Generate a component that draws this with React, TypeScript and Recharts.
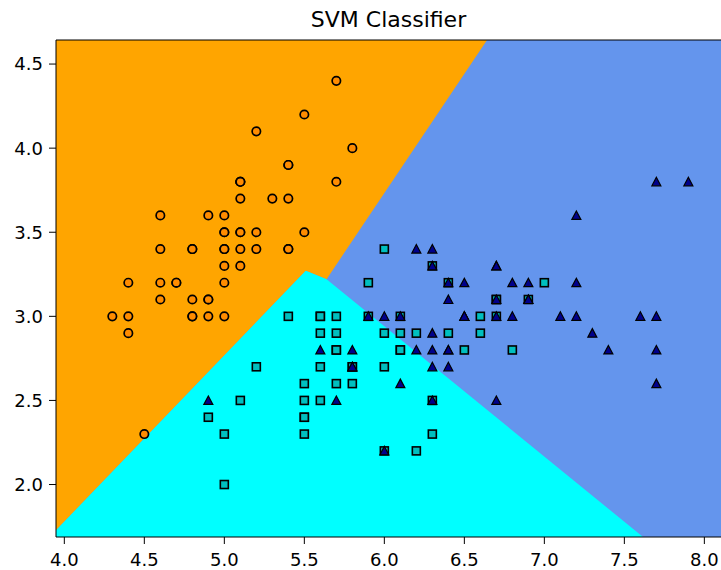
import React from 'react';
import {
  ComposedChart,
  Area,
  Scatter,
  XAxis,
  YAxis,
  CartesianGrid,
  ReferenceLine,
} from 'recharts';

// axis window of the mesh
const X_MIN = 3.948;
const X_MAX = 8.104;
const Y_MIN = 1.688;
const Y_MAX = 4.643;
const X_TICKS = [4.0, 4.5, 5.0, 5.5, 6.0, 6.5, 7.0, 7.5, 8.0];
const Y_TICKS = [2.0, 2.5, 3.0, 3.5, 4.0, 4.5];

// decision boundaries
const SETOSA_EDGE_X = [3.948, 5.509, 5.639, 6.642];
const SETOSA_EDGE_Y = [1.728, 3.271, 3.221, 4.643];
const VERSI_EDGE_X = [3.948, 5.509, 5.639, 7.617];
const VERSI_EDGE_Y = [1.728, 3.271, 3.221, 1.688];

// sepal length / sepal width
const SETOSA: [number, number][] = [
  [5.1, 3.5], [4.9, 3.0], [4.7, 3.2], [4.6, 3.1], [5.0, 3.6], [5.4, 3.9], [4.6, 3.4], [5.0, 3.4],
  [4.4, 2.9], [4.9, 3.1], [5.4, 3.7], [4.8, 3.4], [4.8, 3.0], [4.3, 3.0], [5.8, 4.0], [5.7, 4.4],
  [5.4, 3.9], [5.1, 3.5], [5.7, 3.8], [5.1, 3.8], [5.4, 3.4], [5.1, 3.7], [4.6, 3.6], [5.1, 3.3],
  [4.8, 3.4], [5.0, 3.0], [5.0, 3.4], [5.2, 3.5], [5.2, 3.4], [4.7, 3.2], [4.8, 3.1], [5.4, 3.4],
  [5.2, 4.1], [5.5, 4.2], [4.9, 3.1], [5.0, 3.2], [5.5, 3.5], [4.9, 3.6], [4.4, 3.0], [5.1, 3.4],
  [5.0, 3.5], [4.5, 2.3], [4.4, 3.2], [5.0, 3.5], [5.1, 3.8], [4.8, 3.0], [5.1, 3.8], [4.6, 3.2],
  [5.3, 3.7], [5.0, 3.3],
];
const VERSICOLOR: [number, number][] = [
  [7.0, 3.2], [6.4, 3.2], [6.9, 3.1], [5.5, 2.3], [6.5, 2.8], [5.7, 2.8], [6.3, 3.3], [4.9, 2.4],
  [6.6, 2.9], [5.2, 2.7], [5.0, 2.0], [5.9, 3.0], [6.0, 2.2], [6.1, 2.9], [5.6, 2.9], [6.7, 3.1],
  [5.6, 3.0], [5.8, 2.7], [6.2, 2.2], [5.6, 2.5], [5.9, 3.2], [6.1, 2.8], [6.3, 2.5], [6.1, 2.8],
  [6.4, 2.9], [6.6, 3.0], [6.8, 2.8], [6.7, 3.0], [6.0, 2.9], [5.7, 2.6], [5.5, 2.4], [5.5, 2.4],
  [5.8, 2.7], [6.0, 2.7], [5.4, 3.0], [6.0, 3.4], [6.7, 3.1], [6.3, 2.3], [5.6, 3.0], [5.5, 2.5],
  [5.5, 2.6], [6.1, 3.0], [5.8, 2.6], [5.0, 2.3], [5.6, 2.7], [5.7, 3.0], [5.7, 2.9], [6.2, 2.9],
  [5.1, 2.5], [5.7, 2.8],
];
const VIRGINICA: [number, number][] = [
  [6.3, 3.3], [5.8, 2.7], [7.1, 3.0], [6.3, 2.9], [6.5, 3.0], [7.6, 3.0], [4.9, 2.5], [7.3, 2.9],
  [6.7, 2.5], [7.2, 3.6], [6.5, 3.2], [6.4, 2.7], [6.8, 3.0], [5.7, 2.5], [5.8, 2.8], [6.4, 3.2],
  [6.5, 3.0], [7.7, 3.8], [7.7, 2.6], [6.0, 2.2], [6.9, 3.2], [5.6, 2.8], [7.7, 2.8], [6.3, 2.7],
  [6.7, 3.3], [7.2, 3.2], [6.2, 2.8], [6.1, 3.0], [6.4, 2.8], [7.2, 3.0], [7.4, 2.8], [7.9, 3.8],
  [6.4, 2.8], [6.3, 2.8], [6.1, 2.6], [7.7, 3.0], [6.3, 3.4], [6.4, 3.1], [6.0, 3.0], [6.9, 3.1],
  [6.7, 3.1], [6.9, 3.1], [5.8, 2.7], [6.8, 3.2], [6.7, 3.3], [6.7, 3.0], [6.3, 2.5], [6.5, 3.0],
  [6.2, 3.4], [5.9, 3.0],
];

const setosaBand = SETOSA_EDGE_X.map((x, i) => ({ x, band: [SETOSA_EDGE_Y[i], Y_MAX] }));
const versiBand = VERSI_EDGE_X.map((x, i) => ({ x, band: [Y_MIN, VERSI_EDGE_Y[i]] }));
const toPts = (arr: [number, number][]) => arr.map(([x, y]) => ({ x, y }));

const FONT = '"DejaVu Sans", sans-serif';

const CircleDot = (p: any) => (
  <circle cx={p.cx} cy={p.cy} r={4.2} fill="#ff8c00" stroke="#000" strokeWidth={1.7} />
);
const SquareDot = (p: any) => (
  <rect x={p.cx - 4} y={p.cy - 4} width={8} height={8} fill="#00bfbf" stroke="#000" strokeWidth={1.6} />
);
const TriangleDot = (p: any) => (
  <polygon
    points={`${p.cx},${p.cy - 4.5} ${p.cx - 4.5},${p.cy + 4} ${p.cx + 4.5},${p.cy + 4}`}
    fill="#00008b"
    stroke="#000"
    strokeWidth={1.2}
  />
);

export default function App() {
  return (
    <div style={{ position: 'absolute', left: 0, top: 0, width: 721, height: 570, background: '#fff', fontFamily: FONT }}>
      <div
        style={{
          position: 'absolute',
          left: 56,
          width: 665,
          top: 9,
          textAlign: 'center',
          fontSize: 22,
          lineHeight: '22px',
          color: '#000',
        }}
      >
        SVM Classifier
      </div>
      <ComposedChart width={721} height={570} margin={{ top: 40, right: 0, bottom: 0, left: 0 }}>
        <CartesianGrid horizontal={false} vertical={false} fill="#6495ed" fillOpacity={1} />
        <Area
          data={setosaBand}
          dataKey="band"
          type="linear"
          fill="#ffa500"
          fillOpacity={1}
          stroke="none"
          isAnimationActive={false}
        />
        <Area
          data={versiBand}
          dataKey="band"
          type="linear"
          fill="#00ffff"
          fillOpacity={1}
          stroke="none"
          isAnimationActive={false}
        />
        <Scatter data={toPts(SETOSA)} dataKey="y" shape={CircleDot} isAnimationActive={false} />
        <Scatter data={toPts(VERSICOLOR)} dataKey="y" shape={SquareDot} isAnimationActive={false} />
        <Scatter data={toPts(VIRGINICA)} dataKey="y" shape={TriangleDot} isAnimationActive={false} />
        <ReferenceLine y={Y_MAX} stroke="#000" strokeWidth={1} />
        <XAxis
          dataKey="x"
          type="number"
          domain={[X_MIN, X_MAX]}
          allowDataOverflow
          ticks={X_TICKS}
          tickFormatter={(v: number) => v.toFixed(1)}
          height={33}
          tickSize={7}
          tickMargin={9}
          stroke="#000"
          tick={{ fill: '#000', fontSize: 18, fontFamily: FONT }}
        />
        <YAxis
          type="number"
          domain={[Y_MIN, Y_MAX]}
          allowDataOverflow
          ticks={Y_TICKS}
          tickFormatter={(v: number) => v.toFixed(1)}
          width={56}
          tickSize={7}
          tickMargin={6}
          stroke="#000"
          tick={{ fill: '#000', fontSize: 18, fontFamily: FONT }}
        />
      </ComposedChart>
    </div>
  );
}
